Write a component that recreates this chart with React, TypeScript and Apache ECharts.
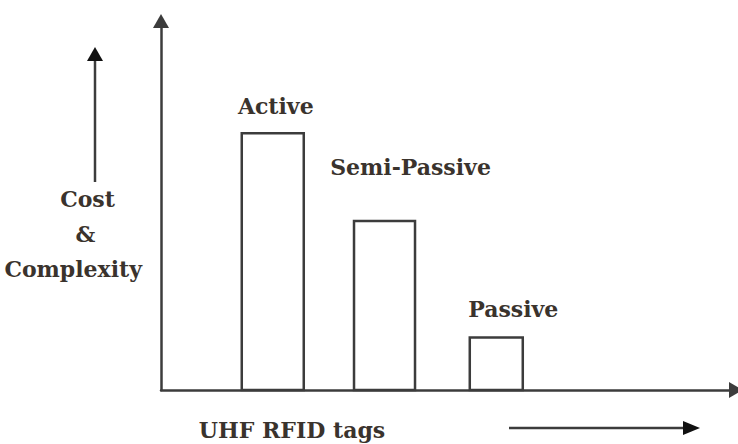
import React, { useEffect, useRef } from "react";
import * as echarts from "echarts";

// Data
const categories = ["Active", "Semi-Passive", "Passive"];
const costValues = [6.96, 4.58, 1.42];
const yAxisTitle = ["Cost", "&", "Complexity"];
const xAxisTitle = "UHF RFID tags";

// Styles (per bar)
const barWidths = [62, 61, 53];
const labelOffsets = [
  [3, -27],
  [26, -54],
  [17, -29],
];

const TEXT_COLOR = "#3a332d";
const LINE_COLOR = "#3c3c3c";
const FONT = 'bold 22px "DejaVu Serif"';

export default function App() {
  const ref = useRef<HTMLDivElement>(null);

  useEffect(() => {
    if (!ref.current) return;
    const chart = echarts.init(ref.current, undefined, { renderer: "svg" });
    const seriesData = categories.map((_, i) => [i + 1, costValues[i]]);

    chart.setOption({
      animation: false,
      backgroundColor: "#ffffff",
      grid: { left: 161, right: 2, top: 21, bottom: 54 },
      xAxis: {
        type: "value",
        min: 0,
        max: 5.145,
        axisLine: {
          show: true,
          onZero: false,
          lineStyle: { color: LINE_COLOR, width: 2.5 },
          symbol: ["none", "triangle"],
          symbolSize: [16, 14],
        },
        axisTick: { show: false },
        axisLabel: { show: false },
        splitLine: { show: false },
      },
      yAxis: {
        type: "value",
        min: 0,
        max: 10,
        axisLine: {
          show: true,
          lineStyle: { color: LINE_COLOR, width: 2.5 },
          symbol: ["none", "triangle"],
          symbolSize: [16, 14],
        },
        axisTick: { show: false },
        axisLabel: { show: false },
        splitLine: { show: false },
      },
      graphic: [
        {
          type: "text",
          x: 87.5,
          y: 199,
          style: { text: yAxisTitle[0], font: FONT, fill: TEXT_COLOR, align: "center", verticalAlign: "middle" },
        },
        {
          type: "text",
          x: 85.5,
          y: 234,
          style: { text: yAxisTitle[1], font: FONT, fill: TEXT_COLOR, align: "center", verticalAlign: "middle" },
        },
        {
          type: "text",
          x: 142,
          y: 269,
          style: { text: yAxisTitle[2], font: FONT, fill: TEXT_COLOR, align: "right", verticalAlign: "middle" },
        },
        {
          type: "line",
          shape: { x1: 95, y1: 182, x2: 95, y2: 58 },
          style: { stroke: LINE_COLOR, lineWidth: 2.5 },
        },
        {
          type: "polygon",
          shape: { points: [[87, 61], [103, 61], [95, 47]] },
          style: { fill: "#111" },
        },
        {
          type: "text",
          x: 292,
          y: 430,
          style: { text: xAxisTitle, font: FONT, fill: TEXT_COLOR, align: "center", verticalAlign: "middle" },
        },
        {
          type: "line",
          shape: { x1: 509, y1: 428, x2: 686, y2: 428 },
          style: { stroke: LINE_COLOR, lineWidth: 2.5 },
        },
        {
          type: "polygon",
          shape: { points: [[683, 421], [683, 435], [700, 428]] },
          style: { fill: "#111" },
        },
      ],
      series: [
        {
          type: "custom",
          clip: false,
          data: seriesData,
          renderItem: (params: any, api: any) => {
            const i = params.dataIndex;
            const x = api.value(0);
            const v = api.value(1);
            const top = api.coord([x, v]);
            const base = api.coord([x, 0]);
            const w = barWidths[i];
            return {
              type: "group",
              children: [
                {
                  type: "rect",
                  shape: { x: top[0] - w / 2, y: top[1], width: w, height: base[1] - top[1] },
                  style: { fill: "#ffffff", stroke: LINE_COLOR, lineWidth: 2.5 },
                },
                {
                  type: "text",
                  x: top[0] + labelOffsets[i][0],
                  y: top[1] + labelOffsets[i][1],
                  style: {
                    text: categories[i],
                    font: FONT,
                    fill: TEXT_COLOR,
                    align: "center",
                    verticalAlign: "middle",
                  },
                },
              ],
            };
          },
        },
      ],
    });

    return () => chart.dispose();
  }, []);

  return <div ref={ref} style={{ width: 738, height: 444, position: "fixed", left: 0, top: 0 }} />;
}
